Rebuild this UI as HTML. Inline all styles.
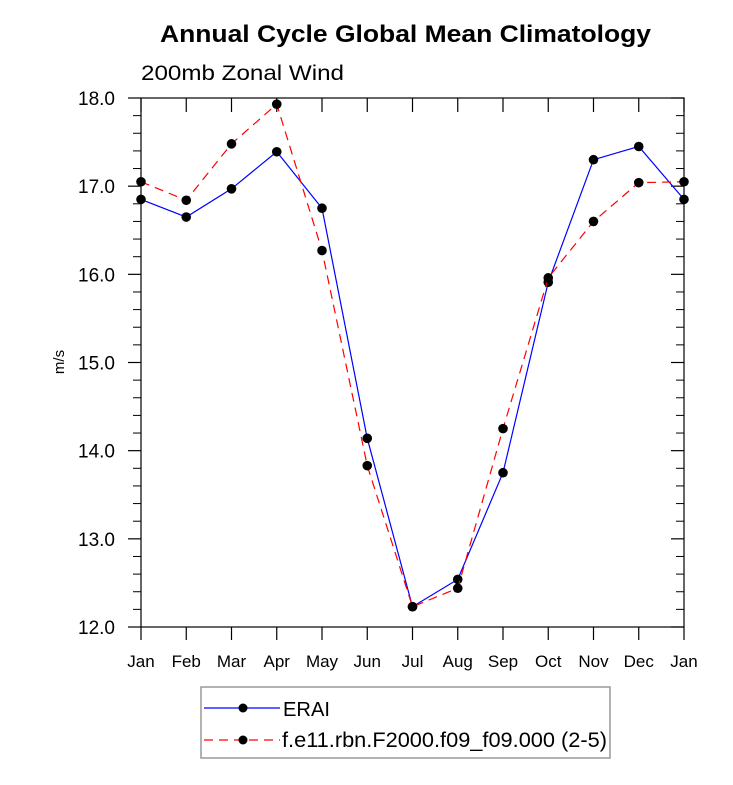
<!DOCTYPE html>
<html><head><meta charset="utf-8"><style>
body{margin:0;background:#fff;}
svg text{font-family:"Liberation Sans",Arial,sans-serif;}
</style></head><body>
<svg id="chart" width="733" height="780" xmlns="http://www.w3.org/2000/svg">
<text x="160" y="42" font-size="24" font-weight="bold" textLength="491" lengthAdjust="spacingAndGlyphs">Annual Cycle Global Mean Climatology</text>
<text x="141" y="80" font-size="21" textLength="203" lengthAdjust="spacingAndGlyphs">200mb Zonal Wind</text>
<text transform="translate(64,362) rotate(-90)" text-anchor="middle" font-size="15">m/s</text>
<g id="axes"></g><g id="series"></g>
<g>
<rect x="201" y="687" width="409" height="71" fill="none" stroke="#999" stroke-width="1.5"/>
<g>
<line x1="204" y1="708" x2="280" y2="708" stroke="#0000ff" stroke-width="1.2"/>
<circle cx="243" cy="708" r="4.5" fill="#000"/>
<text x="283" y="716" font-size="20" textLength="47" lengthAdjust="spacingAndGlyphs">ERAI</text></g>
<g>
<line x1="204" y1="740" x2="280" y2="740" stroke="#ff0000" stroke-width="1.2" stroke-dasharray="9,6"/>
<circle cx="243" cy="740" r="4.5" fill="#000"/>
<text x="282" y="747" font-size="21" textLength="325" lengthAdjust="spacingAndGlyphs">f.e11.rbn.F2000.f09_f09.000 (2-5)</text></g>
</g>
</svg>
<script>
const months=["Jan","Feb","Mar","Apr","May","Jun","Jul","Aug","Sep","Oct","Nov","Dec","Jan"];
const erai=[16.85,16.65,16.97,17.39,16.75,14.14,12.23,12.54,13.75,15.91,17.30,17.45,16.85];
const model=[17.05,16.84,17.48,17.93,16.27,13.83,12.23,12.44,14.25,15.96,16.60,17.04,17.05];
const yTicks=[12,13,14,15,16,17,18];
const NS="http://www.w3.org/2000/svg";
const L=141,R=684,T=98,B=627,ymin=12,ymax=18;
const xs=i=>L+(R-L)*i/(months.length-1);
const ys=v=>B-(v-ymin)/(ymax-ymin)*(B-T);
function mk(t,a,p){const e=document.createElementNS(NS,t);for(const k in a)e.setAttribute(k,a[k]);p.appendChild(e);return e;}
const ax=document.getElementById('axes');
const frame=mk('rect',{x:L,y:T,width:R-L,height:B-T,fill:'none',stroke:'#000','stroke-width':1.2},ax);


months.forEach((m,i)=>{const x=xs(i);
mk('line',{x1:x,y1:B,x2:x,y2:B+13,stroke:'#000','stroke-width':1.2},ax);
mk('line',{x1:x,y1:T,x2:x,y2:T+14,stroke:'#000','stroke-width':1.2},ax);
const t=mk('text',{x:x,y:B+40,'text-anchor':'middle','font-size':17},ax);t.textContent=m;

});
yTicks.forEach(v=>{const y=ys(v);
mk('line',{x1:L-13,y1:y,x2:L,y2:y,stroke:'#000','stroke-width':1.2},ax);
mk('line',{x1:R,y1:y,x2:R-13,y2:y,stroke:'#000','stroke-width':1.2},ax);
const t=mk('text',{x:L-26,y:y+7,'text-anchor':'end','font-size':19},ax);t.textContent=v.toFixed(1);


if(v<ymax)for(let k=1;k<5;k++){const yy=ys(v+k*0.2);
mk('line',{x1:L-8,y1:yy,x2:L,y2:yy,stroke:'#000','stroke-width':1},ax);
mk('line',{x1:R,y1:yy,x2:R-8,y2:yy,stroke:'#000','stroke-width':1},ax);}});
const sg=document.getElementById('series');
function draw(arr,color,dash,name){
const pl=mk('polyline',{points:arr.map((v,i)=>xs(i)+','+ys(v)).join(' '),fill:'none',stroke:color,'stroke-width':1.2},sg);
if(dash)pl.setAttribute('stroke-dasharray',dash);


arr.forEach((v,i)=>{const c=mk('circle',{cx:xs(i),cy:ys(v),r:4.8,fill:'#000'},sg);

});}
draw(erai,'#0000ff',null,'erai');
draw(model,'#ff0000','9,6','model');
</script>
</body></html>
